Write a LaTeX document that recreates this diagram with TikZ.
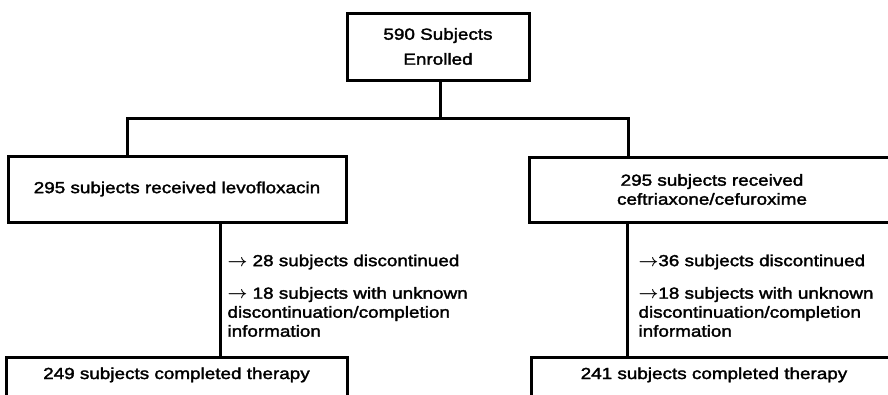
\documentclass[tikz,border=0pt]{standalone}
\usepackage{fontspec}
\setmainfont{Liberation Sans}[FakeStretch=1.18,FakeBold=2]
\newcommand{\toarrow}{\ensuremath{\boldsymbol{\rightarrow}}}
\usepackage{amsmath}
\begin{document}
\begin{tikzpicture}[x=1pt,y=-1pt,line width=3pt,
        font=\fontsize{16pt}{19pt}\selectfont,
        box/.style={draw,rectangle,align=center,inner sep=0pt},
        donebox/.style={box,anchor=north,minimum width=#1,text height=12pt,
            text depth=30pt,inner ysep=9.5pt},
        note/.style={anchor=west,align=left,inner sep=0pt}]
        \useasboundingbox (0,0) rectangle (888,394);

        \node[box,minimum width=182,minimum height=67] (enrol) at (438,46.5)
         {590 Subjects\\[6pt]Enrolled};
        \node[box,minimum width=338,minimum height=66] (levo) at (177,189)
         {295 subjects received levofloxacin};
        \node[box,minimum width=366,minimum height=65] (ceft) at (712,189.5)
         {295 subjects received\\ceftriaxone/cefuroxime};
        \node[donebox=341] (levodone) at (176.5,356) {249 subjects completed therapy};
        \node[donebox=366] (ceftdone) at (714,356) {241 subjects completed therapy};

        \node[note] (levodisc) at (226,262) {\toarrow{} 28 subjects discontinued};
        \node[note] (levounk) at (226,312)
         {\toarrow{} 18 subjects with unknown\\discontinuation/completion\\information};
        \node[note] (ceftdisc) at (637,262) {\toarrow36 subjects discontinued};
        \node[note] (ceftunk) at (637,312)
         {\toarrow18 subjects with unknown\\discontinuation/completion\\information};

        \coordinate (fork) at (440,118);
        \coordinate (forkl) at (127,118);
        \coordinate (forkr) at (628,118);
        \coordinate (levostem) at (220,300);
        \coordinate (ceftstem) at (627,300);

        \draw (enrol.south -| fork) -- (fork);
        \draw (forkl |- levo.north) -- (forkl) -- (forkr) -- (forkr |- ceft.north);
        \draw (levostem |- levo.south) -- (levostem |- levodone.north);
        \draw (ceftstem |- ceft.south) -- (ceftstem |- ceftdone.north);
    \end{tikzpicture}
\end{document}
